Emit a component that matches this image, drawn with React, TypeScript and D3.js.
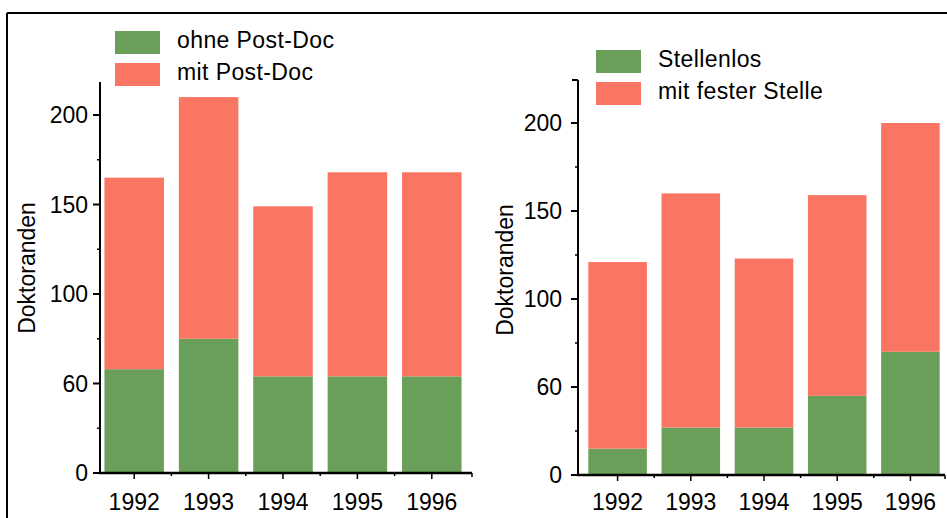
import React from "react";
import * as d3 from "d3";

// years on the x axis, shared by both panels
const years = ["1992", "1993", "1994", "1995", "1996"];

// left panel: ohne / mit Post-Doc
const ohnePostDoc = [58, 75, 54, 54, 54];
const mitPostDoc = [107, 135, 95, 114, 114];

// right panel: Stellenlos / mit fester Stelle
const stellenlos = [15, 27, 27, 45, 70];
const festeStelle = [106, 133, 96, 114, 130];

// tick values and the labels as printed (the 50 tick reads "60" in the original)
const yTickValues = [0, 50, 100, 150, 200];
const yTickLabels = ["0", "60", "100", "150", "200"];
const yMinorTicks = [25, 75, 125, 175];

const GREEN = "#6a9f59";
const RED = "#fb7563";
const FONT = "'Liberation Sans', Arial, Helvetica, sans-serif";

type PanelProps = {
  bottomSeries: number[];
  topSeries: number[];
  legend: string[];
  axisX: number;
  axisRight: number;
  yBottom: number;
  yTop200: number;
  axisTopY: number;
  bandRange: [number, number];
  labelRight: number;
  yLabelX: number;
  yLabelY: number;
  legendX: number;
  legendY: number;
  cap: boolean;
};

function Panel(p: PanelProps) {
  const y = d3.scaleLinear().domain([0, 200]).range([p.yBottom, p.yTop200]);
  const x = d3.scaleBand().domain(years).range(p.bandRange).paddingInner(0.2).paddingOuter(0.1);
  const bw = x.bandwidth();

  const stacked = d3.stack<number>().keys(["a", "b"])
    .value((i, key) => (key === "a" ? p.bottomSeries[i] : p.topSeries[i]))(d3.range(years.length));

  const colors = [GREEN, RED];
  const boundaries = years.slice(1).map((yr) => (x(yr)! - x.step() * 0.1));

  return (
    <g fontFamily={FONT}>
      {stacked.map((layer, li) => (
        <g key={li} fill={colors[li]}>
          {layer.map((d, i) => (
            <rect key={i} x={x(years[i])} y={y(d[1])} width={bw} height={y(d[0]) - y(d[1])} />
          ))}
        </g>
      ))}
      {/* y axis */}
      <line x1={p.axisX} x2={p.axisX} y1={p.axisTopY} y2={p.yBottom} stroke="black" strokeWidth={2} />
      {p.cap && <line x1={p.axisX - 6} x2={p.axisX} y1={p.axisTopY} y2={p.axisTopY} stroke="black" strokeWidth={2} />}
      {yTickValues.map((t, i) => (
        <g key={t}>
          <line x1={p.axisX - 7} x2={p.axisX} y1={y(t)} y2={y(t)} stroke="black" strokeWidth={2} />
          <text x={p.labelRight} y={y(t)} dy="0.36em" textAnchor="end" fontSize={23}>
            {yTickLabels[i]}
          </text>
        </g>
      ))}
      {yMinorTicks.map((t) => (
        <line key={t} x1={p.axisX - 3} x2={p.axisX} y1={y(t)} y2={y(t)} stroke="black" strokeWidth={1.5} />
      ))}
      {/* x axis */}
      <line x1={p.axisX - 1} x2={p.axisRight} y1={p.yBottom} y2={p.yBottom} stroke="black" strokeWidth={2.5} />
      {years.map((yr) => (
        <g key={yr}>
          <line x1={x(yr)! + bw / 2} x2={x(yr)! + bw / 2} y1={p.yBottom} y2={p.yBottom + 6} stroke="black" strokeWidth={1.5} />
          <text x={x(yr)! + bw / 2} y={510} textAnchor="middle" fontSize={23}>{yr}</text>
        </g>
      ))}
      {boundaries.map((b, i) => (
        <line key={i} x1={b} x2={b} y1={p.yBottom} y2={p.yBottom + 3} stroke="black" strokeWidth={1.5} />
      ))}
      <line x1={p.axisRight} x2={p.axisRight} y1={p.yBottom} y2={p.yBottom + 4} stroke="black" strokeWidth={1.5} />
      <text transform={`translate(${p.yLabelX},${p.yLabelY}) rotate(-90)`} textAnchor="middle" fontSize={23}>
        Doktoranden
      </text>
      {/* legend */}
      {p.legend.map((label, i) => (
        <g key={label} transform={`translate(${p.legendX},${p.legendY + i * 32})`}>
          <rect x={0} y={0} width={45} height={23} fill={colors[i]} />
          <text x={62} y={17} fontSize={23} letterSpacing={0.4}>{label}</text>
        </g>
      ))}
    </g>
  );
}

export default function App() {
  return (
    <div style={{ position: "absolute", left: 0, top: 0 }}>
      <svg width={947} height={518} style={{ display: "block", background: "white" }}>
        <line x1={7} x2={947} y1={13} y2={13} stroke="black" strokeWidth={2} />
        <line x1={7} x2={7} y1={13} y2={518} stroke="black" strokeWidth={2} />
        <Panel
          bottomSeries={ohnePostDoc}
          topSeries={mitPostDoc}
          legend={["ohne Post-Doc", "mit Post-Doc"]}
          axisX={100}
          axisRight={472}
          yBottom={473}
          yTop200={115}
          axisTopY={82}
          bandRange={[97, 469]}
          labelRight={88}
          yLabelX={35}
          yLabelY={268}
          legendX={115}
          legendY={31}
          cap={false}
        />
        <Panel
          bottomSeries={stellenlos}
          topSeries={festeStelle}
          legend={["Stellenlos", "mit fester Stelle"]}
          axisX={578}
          axisRight={945}
          yBottom={475}
          yTop200={123}
          axisTopY={80}
          bandRange={[581, 947]}
          labelRight={562}
          yLabelX={513}
          yLabelY={270}
          legendX={596}
          legendY={50}
          cap={true}
        />
      </svg>
    </div>
  );
}
